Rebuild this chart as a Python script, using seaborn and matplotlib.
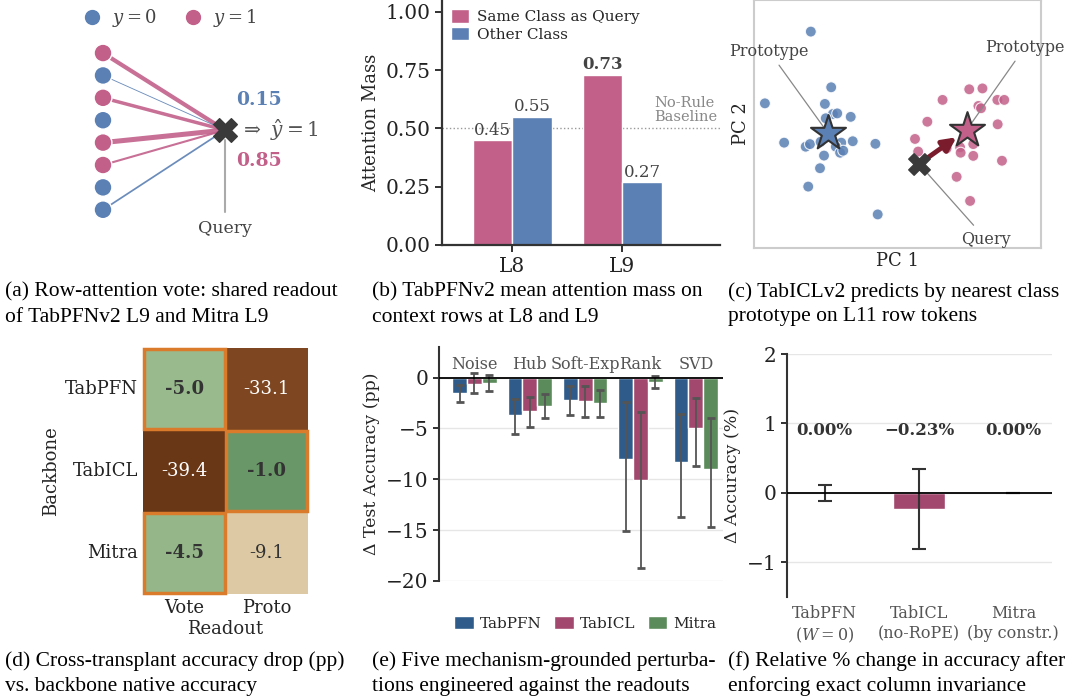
import matplotlib
matplotlib.use('Agg')
import matplotlib.pyplot as plt
from matplotlib.colors import LinearSegmentedColormap
from matplotlib.lines import Line2D
from matplotlib.patches import Rectangle
import numpy as np
import pandas as pd
import seaborn as sns

W, H = 1068, 696

PINK = '#c2608a'
BLUE = '#5b80b4'
DARK = '#3a3a3a'
PFN_C = '#2e5b8a'
ICL_C = '#a2476e'
MITRA_C = '#5b8b5a'

# (a) row-attention vote schematic
ctx_labels = [1, 0, 1, 0, 1, 1, 0, 0]
ctx_weights = [0.24, 0.05, 0.20, 0.0, 0.29, 0.12, 0.0, 0.10]
mass_y0 = 0.15
mass_y1 = 0.85

# (b) attention mass
layers = ['L8', 'L9']
same_mass = [0.45, 0.73]
other_mass = [0.55, 0.27]
baseline = 0.5

# (c) TabICL L11 row tokens (PC space)
blue_pc1 = [1.98, 2.69, 0.38, 2.47, 2.75, 2.90, 3.37, 2.50, 1.05, 1.80, 1.95,
            2.32, 3.04, 3.44, 4.23, 2.85, 3.00, 3.11, 2.44, 2.30, 1.89, 4.31]
blue_pc2 = [7.54, 5.60, 5.04, 5.02, 4.67, 4.69, 4.57, 4.52, 3.67, 3.53, 3.62,
            3.70, 3.67, 3.72, 3.63, 3.53, 3.32, 3.39, 3.22, 2.78, 2.14, 1.17]
pink_pc1 = [7.50, 7.96, 6.57, 8.48, 8.72, 7.82, 7.91, 6.04, 8.49, 5.61, 7.64,
            7.18, 7.20, 6.71, 7.64, 5.72, 8.64, 7.06, 7.53]
pink_pc2 = [5.53, 5.56, 5.16, 5.16, 5.16, 4.95, 4.87, 4.40, 4.31, 3.80, 3.62,
            3.51, 3.32, 3.47, 3.21, 3.36, 3.04, 2.48, 1.64]
proto_blue = (2.58, 4.00)
proto_pink = (7.41, 4.11)
query_pt = (5.75, 2.93)

# (d) cross-transplant accuracy drop
backbones = ['TabPFN', 'TabICL', 'Mitra']
readouts = ['Vote', 'Proto']
drop_pp = [[-5.0, -33.1], [-39.4, -1.0], [-4.5, -9.1]]
native_readout = ['Vote', 'Proto', 'Vote']

# (e) perturbations: mean and interval bounds
perturbations = ['Noise', 'Hub', 'Soft-Exp', 'Rank', 'SVD']
models = ['TabPFN', 'TabICL', 'Mitra']
delta_tabpfn = [-1.55, -3.70, -2.25, -8.05, -8.30]
delta_tabicl = [-0.65, -3.30, -2.35, -10.10, -5.00]
delta_mitra = [-0.55, -2.80, -2.50, -0.45, -8.95]
hi_tabpfn = [-0.76, -2.14, -0.82, -2.40, -3.62]
lo_tabpfn = [-2.40, -5.53, -3.72, -15.13, -13.72]
hi_tabicl = [0.49, -1.94, -0.82, -3.42, -2.01]
lo_tabicl = [-1.55, -4.84, -3.91, -18.72, -8.72]
hi_mitra = [0.20, -1.61, -1.22, 0.13, -3.98]
lo_mitra = [-1.32, -4.01, -3.85, -1.05, -14.74]

# (f) column invariance
variants = ['TabPFN\n($W=0$)', 'TabICL\n(no-RoPE)', 'Mitra\n(by constr.)']
inv_delta = [0.0, -0.23, 0.0]
inv_err = [0.12, 0.58, 0.0]

captions = [
    ['(a) Row-attention vote: shared readout', 'of TabPFNv2 L9 and Mitra L9'],
    ['(b) TabPFNv2 mean attention mass on', 'context rows at L8 and L9'],
    ['(c) TabICLv2 predicts by nearest class', 'prototype on L11 row tokens'],
    ['(d) Cross-transplant accuracy drop (pp)', 'vs. backbone native accuracy'],
    ['(e) Five mechanism-grounded perturba-', 'tions engineered against the readouts'],
    ['(f) Relative % change in accuracy after', 'enforcing exact column invariance'],
]


def px(left, top, width, height):
    return [left / W, 1 - (top + height) / H, width / W, height / H]


sns.set_theme(style='ticks')
plt.rcParams['font.family'] = ['DejaVu Serif']
plt.rcParams['mathtext.fontset'] = 'dejavuserif'

fig = plt.figure(figsize=(W / 100, H / 100), dpi=100)

# ---------- (a) ----------
axa = fig.add_axes(px(0, 0, 360, 255))
qy = 3.44
for i, (lab, w) in enumerate(zip(ctx_labels, ctx_weights)):
    if w > 0:
        axa.plot([0, 1], [i, qy], color=PINK if lab else BLUE, lw=w * 12.5,
                 solid_capstyle='butt', alpha=0.9, zorder=1)
sns.scatterplot(x=np.zeros(len(ctx_labels)), y=np.arange(len(ctx_labels)), hue=ctx_labels,
                palette={0: BLUE, 1: PINK}, s=165, edgecolor='white', linewidth=1,
                legend=False, ax=axa, zorder=3)
axa.scatter([1], [qy], marker='X', s=290, color=DARK, zorder=4)
axa.plot([1, 1], [qy + 0.45, 7.1], color='#aaaaaa', lw=1.5, zorder=1)
axa.text(1, 7.85, 'Query', ha='center', va='center', fontsize=12.5, color='#444444')
axa.text(1.125, qy, r'$\Rightarrow\ \hat{y}=1$', ha='left', va='center', fontsize=14.5, color='#555555')
axa.text(1.28, 2.1, f'{mass_y0:.2f}', ha='center', va='center', fontsize=13.5, color=BLUE, fontweight='bold')
axa.text(1.28, 4.82, f'{mass_y1:.2f}', ha='center', va='center', fontsize=13.5, color=PINK, fontweight='bold')
hnd = [Line2D([], [], marker='o', ls='', color=BLUE, markersize=10),
       Line2D([], [], marker='o', ls='', color=PINK, markersize=10)]
axa.legend(hnd, ['$y=0$', '$y=1$'], loc='center', bbox_to_anchor=(0.46, 0.93), ncol=2,
           frameon=False, fontsize=13, handletextpad=0.1, columnspacing=1.0, labelcolor='#444444')
axa.set_xlim(-103 / 122, 257 / 122)
axa.set_ylim(9.02, -2.37)
axa.axis('off')

# ---------- (b) ----------
axb = fig.add_axes(px(442, 0, 278, 245))
dfb = pd.DataFrame({'layer': layers * 2,
                    'cls': ['Same Class as Query'] * 2 + ['Other Class'] * 2,
                    'mass': same_mass + other_mass})
sns.barplot(data=dfb, x='layer', y='mass', hue='cls', palette=[PINK, BLUE], width=0.72,
            saturation=1, ax=axb)
top_val = max(same_mass + other_mass)
for cont in axb.containers:
    for t in axb.bar_label(cont, fmt='%.2f', padding=1, fontsize=12, color='#444444'):
        if float(t.get_text()) == top_val:
            t.set_fontweight('bold')
axb.axhline(baseline, ls=':', color='#999999', lw=1, zorder=0)
axb.text(1.29, baseline + 0.02, 'No-Rule\nBaseline', ha='left', va='bottom', fontsize=10.5,
         color='#888888', linespacing=0.95)
axb.legend(loc='upper left', bbox_to_anchor=(0.0, 1.0), frameon=False, fontsize=11,
           handlelength=1.2, handleheight=1.0, labelspacing=0.15, borderaxespad=0.2,
           handletextpad=0.5)
axb.set_xlim(-0.64, 1.89)
axb.set_ylim(0, 1.05)
axb.set_yticks([0, 0.25, 0.5, 0.75, 1.0])
axb.yaxis.set_major_formatter(matplotlib.ticker.FormatStrFormatter('%.2f'))
axb.set_xlabel('')
axb.set_ylabel('Attention Mass', fontsize=13)
axb.tick_params(axis='both', labelsize=14.5, width=1.3, length=5, colors='#222222')
for s in ['top', 'right']:
    axb.spines[s].set_visible(False)
for s in ['left', 'bottom']:
    axb.spines[s].set_linewidth(1.6)
    axb.spines[s].set_color('#333333')

# ---------- (c) ----------
axc = fig.add_axes(px(754, 0, 287, 248))
dfc = pd.DataFrame({'pc1': blue_pc1 + pink_pc1, 'pc2': blue_pc2 + pink_pc2,
                    'cls': [0] * len(blue_pc1) + [1] * len(pink_pc1)})
sns.scatterplot(data=dfc, x='pc1', y='pc2', hue='cls', palette={0: BLUE, 1: PINK}, s=62,
                alpha=0.85, edgecolor='white', linewidth=0.8, legend=False, ax=axc, zorder=3)
axc.scatter(*proto_blue, marker='*', s=700, color=BLUE, edgecolor='#333333', linewidth=1.5, zorder=6)
axc.scatter(*proto_pink, marker='*', s=700, color=PINK, edgecolor='#333333', linewidth=1.5, zorder=6)
axc.scatter(*query_pt, marker='X', s=240, color=DARK, zorder=7)
axc.annotate('', xy=proto_pink, xytext=query_pt,
             arrowprops=dict(arrowstyle='-|>', color='#7a1c2c', lw=3.5, shrinkA=7, shrinkB=9,
                             mutation_scale=20), zorder=6)
ann = dict(arrowstyle='-', color='#888888', lw=0.9)
axc.annotate('Prototype', xy=proto_blue, xytext=(0.52, 6.86), ha='center', va='center',
             fontsize=11.5, color='#444444', arrowprops=ann, annotation_clip=False, zorder=4)
axc.annotate('Prototype', xy=proto_pink, xytext=(9.44, 7.0), ha='center', va='center',
             fontsize=11.5, color='#444444', arrowprops=ann, annotation_clip=False, zorder=4)
axc.annotate('Query', xy=query_pt, xytext=(8.08, 0.31), ha='center', va='center',
             fontsize=11.5, color='#444444', arrowprops=ann, annotation_clip=False, zorder=4)
axc.set_xlim(0, 10)
axc.set_ylim(0, 248 / 28.7)
axc.set_xticks([])
axc.set_yticks([])
axc.set_xlabel('PC 1', fontsize=13, labelpad=3)
axc.set_ylabel('PC 2', fontsize=13, labelpad=3)
for s in axc.spines.values():
    s.set_color('#cccccc')
    s.set_linewidth(1.5)

# ---------- (d) ----------
axd = fig.add_axes(px(143, 348, 165, 246))
cmap_d = LinearSegmentedColormap.from_list(
    'brgr', [(0.0, '#673515'), (0.17, '#7e4621'), (0.77, '#dfcaa5'),
             (0.875, '#9bbb8e'), (1.0, '#5f8f5f')])
heat = pd.DataFrame(drop_pp, index=backbones, columns=readouts)
sns.heatmap(heat, cmap=cmap_d, vmin=-40, vmax=0, annot=True, fmt='.1f', cbar=False, ax=axd,
            annot_kws={'fontsize': 13})
for k, t in enumerate(axd.texts):
    i, j = divmod(k, len(readouts))
    v = drop_pp[i][j]
    t.set_color('white' if v < -20 else '#333333')
    if readouts[j] == native_readout[i]:
        t.set_fontweight('bold')
for i, r in enumerate(native_readout):
    j = readouts.index(r)
    axd.add_patch(Rectangle((j + 0.01, i + 0.01), 0.98, 0.98, fill=False,
                            edgecolor='#d97b2a', lw=2.5, clip_on=False, zorder=5))
axd.set_xlabel('Readout', fontsize=13, labelpad=2)
axd.set_ylabel('Backbone', fontsize=13)
axd.tick_params(axis='both', length=0, labelsize=13, colors='#222222')
axd.set_yticklabels(backbones, rotation=0)

# ---------- (e) ----------
axe = fig.add_axes(px(439, 347, 284, 234))
dfe = pd.DataFrame({'pert': perturbations * 3,
                    'model': np.repeat(models, len(perturbations)),
                    'delta': delta_tabpfn + delta_tabicl + delta_mitra})
bounds = [(lo_tabpfn, hi_tabpfn), (lo_tabicl, hi_tabicl), (lo_mitra, hi_mitra)]
sns.barplot(data=dfe, x='pert', y='delta', hue='model', palette=[PFN_C, ICL_C, MITRA_C],
            width=0.8, saturation=1, ax=axe, zorder=2)
for cont, (lo, hi) in zip(axe.containers, bounds):
    xs = np.array([b.get_x() + b.get_width() / 2 for b in cont])
    lo, hi = np.array(lo), np.array(hi)
    mid = (lo + hi) / 2
    axe.errorbar(xs, mid, yerr=(hi - lo) / 2, fmt='none', ecolor='#555555', elinewidth=1.3,
                 capsize=3, capthick=2, zorder=3)
for i, p in enumerate(perturbations):
    axe.text(i, 1.28, p, ha='center', va='center', fontsize=11.5, color='#555555')
axe.axhline(0, color='black', lw=1.3, zorder=4)
axe.yaxis.grid(True, color='#e6e6e6', lw=1)
axe.set_axisbelow(True)
axe.set_xlim(-0.64, 4.49)
axe.set_ylim(-20, 3)
axe.set_yticks([-20, -15, -10, -5, 0])
axe.set_xticks([])
axe.set_xlabel('')
axe.set_ylabel('Δ Test Accuracy (pp)', fontsize=12.5)
axe.tick_params(axis='y', labelsize=14.5, width=1.3, length=4, colors='#222222')
for s in ['top', 'right', 'bottom']:
    axe.spines[s].set_visible(False)
axe.spines['left'].set_linewidth(1.5)
axe.spines['left'].set_color('#333333')
axe.legend(loc='center', bbox_to_anchor=(0.515, -0.18), ncol=3, frameon=False, fontsize=11,
           handlelength=1.3, handleheight=1.0, columnspacing=0.8, handletextpad=0.4)

# ---------- (f) ----------
axf = fig.add_axes(px(787, 354, 265, 243))
dff = pd.DataFrame({'variant': variants, 'delta': inv_delta})
sns.barplot(data=dff, x='variant', y='delta', hue='variant', palette=[PFN_C, ICL_C, MITRA_C],
            width=0.55, saturation=1, legend=False, ax=axf, zorder=2)
axf.errorbar(range(len(variants)), inv_delta, yerr=inv_err, fmt='none', ecolor='#333333',
             elinewidth=1.5, capsize=5, capthick=1.5, zorder=3)
for i, v in enumerate(inv_delta):
    axf.text(i, 0.9, f'{v:.2f}%'.replace('-', '\u2212'), ha='center', va='center',
             fontsize=12, fontweight='bold', color='#333333')
axf.axhline(0, color='black', lw=1.3, zorder=4)
axf.yaxis.grid(True, color='#e6e6e6', lw=1)
axf.set_axisbelow(True)
axf.set_xlim(-0.4, 2.41)
axf.set_ylim(-1.5, 2)
axf.set_yticks([-1, 0, 1, 2])
axf.set_xlabel('')
axf.set_ylabel('Δ Accuracy (%)', fontsize=12.5)
axf.tick_params(axis='y', labelsize=14.5, width=1.3, length=4, colors='#222222')
axf.tick_params(axis='x', length=0, labelsize=11.5, colors='#555555', pad=6)
for s in ['top', 'right', 'bottom']:
    axf.spines[s].set_visible(False)
axf.spines['left'].set_linewidth(1.5)
axf.spines['left'].set_color('#333333')

# ---------- captions ----------
col_x = [5, 372, 728]
row_y = [292, 661]
for k, lines in enumerate(captions):
    r, c = divmod(k, 3)
    for li, line in enumerate(lines):
        fig.text(col_x[c] / W, 1 - (row_y[r] + li * 25) / H, line, ha='left', va='center',
                 fontsize=15.5, family='Liberation Serif', color='black')

fig.savefig('out.png', dpi=100)
